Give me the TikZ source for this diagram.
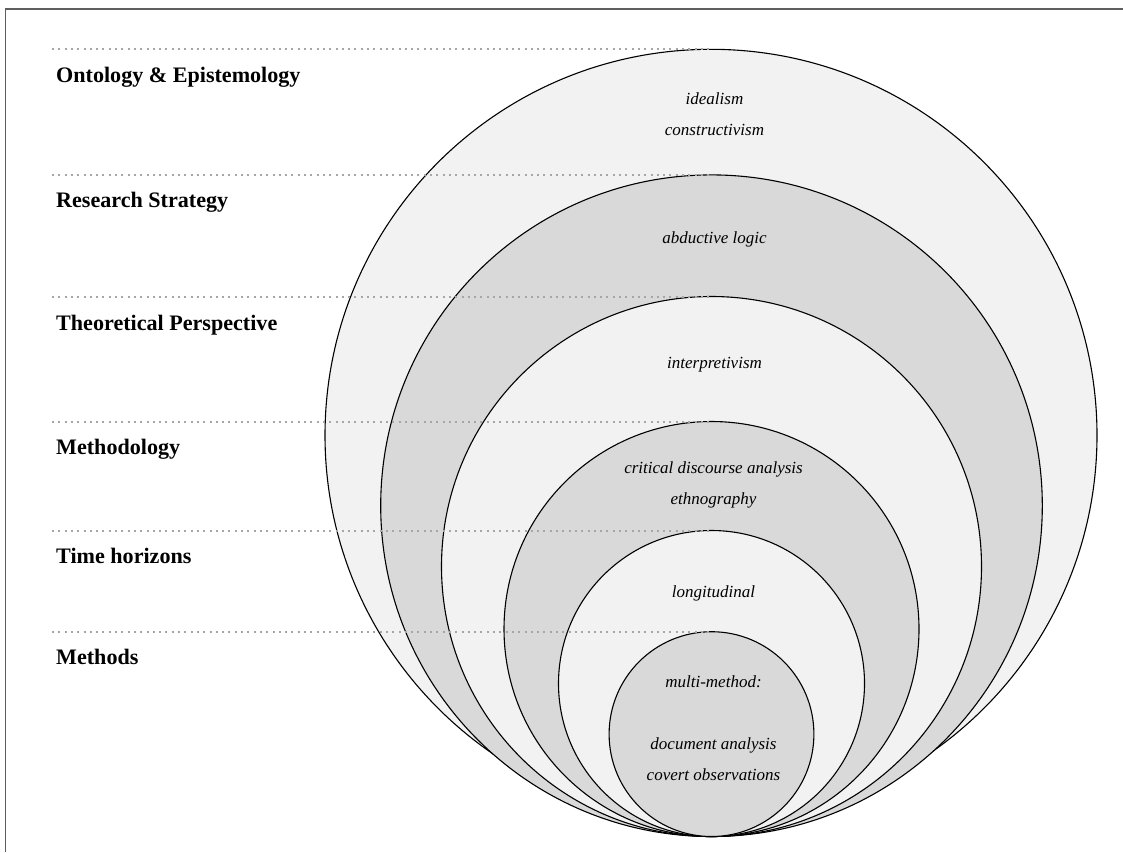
\documentclass[tikz,border=0pt]{standalone}
\usepackage{fontspec}
\setmainfont{Liberation Serif}
\definecolor{ringlight}{HTML}{F2F2F2}
\definecolor{ringdark}{HTML}{D9D9D9}
\definecolor{guidegray}{HTML}{A6A6A6}
\definecolor{framegray}{HTML}{5E5E5E}
\begin{document}
\begin{tikzpicture}[x=1pt,y=-1pt,
  ring/.style={draw=black, line width=1.1pt},
  lightring/.style={ring, fill=ringlight},
  darkring/.style={ring, fill=ringdark},
  guide/.style={draw=guidegray, line width=2pt, dash pattern=on 2pt off 4.3pt},
  level/.style={anchor=base west, inner sep=0pt, font=\fontsize{22.1}{26}\selectfont\bfseries},
  item/.style={anchor=base, inner sep=0pt, font=\fontsize{17}{20}\selectfont\itshape}]

% page extent
\useasboundingbox (0,0) rectangle (1123,852);

% frame
\draw[framegray, line width=1.4pt] (5.5,852) -- (5.5,9) -- (1123,9);

% nested layers, outermost first
\path[lightring] (711,435.3) circle[radius=386pt];
\path[darkring]  (711.5,505.7) circle[radius=330.8pt];
\path[lightring] (711.5,566.5) circle[radius=270pt];
\path[darkring]  (711.5,629) circle[radius=207.5pt];
\path[lightring] (711.5,683.5) circle[radius=153pt];
\path[darkring]  (711.5,734.1) circle[radius=102.4pt];

% top of each layer
\coordinate (t1) at (711,49.3);
\coordinate (t2) at (711.5,174.9);
\coordinate (t3) at (711.5,296.5);
\coordinate (t4) at (711.5,421.5);
\coordinate (t5) at (711.5,530.5);
\coordinate (t6) at (711.5,631.7);

% guide lines from the labels to the layers
\coordinate (g1) at (52,49.3);
\coordinate (g2) at (52,174.9);
\coordinate (g3) at (52,296.5);
\coordinate (g4) at (52,421.5);
\coordinate (g5) at (52,530.5);
\coordinate (g6) at (52,631.7);
\draw[guide] (g1) -- (t1);
\draw[guide] (g2) -- (t2);
\draw[guide] (g3) -- (t3);
\draw[guide] (g4) -- (t4);
\draw[guide] (g5) -- (t5);
\draw[guide] (g6) -- (t6);

% layer names
\node[level] (l1) at (56,82.5) {Ontology \& Epistemology};
\node[level] (l2) at (56,207.5) {Research Strategy};
\node[level] (l3) at (56,330) {Theoretical Perspective};
\node[level] (l4) at (56,454.5) {Methodology};
\node[level] (l5) at (56,563.5) {Time horizons};
\node[level] (l6) at (56,664) {Methods};

% layer contents
\node[item] (c1a) at (714.5,104.5) {idealism};
\node[item] (c1b) at (714.5,135) {constructivism};
\node[item] (c2)  at (714.5,243.5) {abductive logic};
\node[item] (c3)  at (714.5,368) {interpretivism};
\node[item] (c4a) at (713.5,473.5) {critical discourse analysis};
\node[item] (c4b) at (713.5,504.5) {ethnography};
\node[item] (c5)  at (713.5,597) {longitudinal};
\node[item] (c6a) at (713.5,687) {multi-method:};
\node[item] (c6b) at (713.5,749.5) {document analysis};
\node[item] (c6c) at (713.5,780.5) {covert observations};
\end{tikzpicture}
\end{document}
